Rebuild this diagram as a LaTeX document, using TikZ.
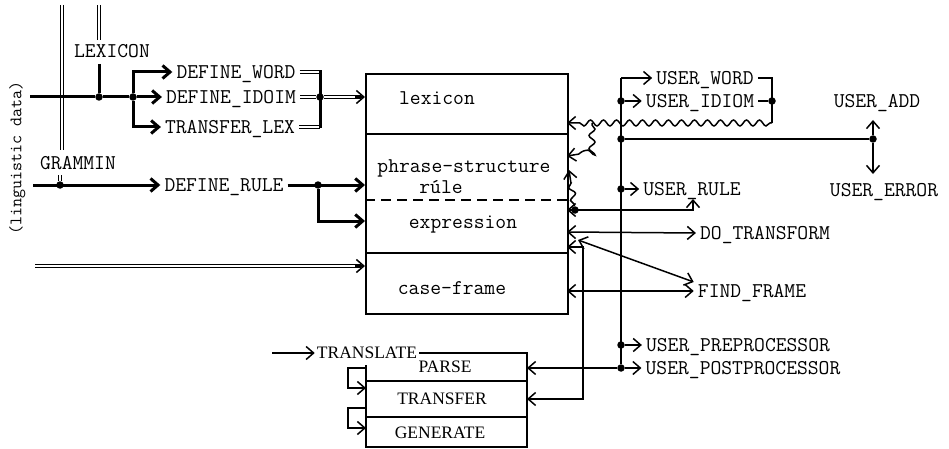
\documentclass[tikz,border=0pt]{standalone}
\usepackage{fontspec}
\usetikzlibrary{arrows.meta,decorations.pathmorphing,calc}
\newfontfamily\trfont{Liberation Serif}
\begin{document}
\begin{tikzpicture}[x=1pt,y=-1pt,
  lbl/.style={font=\ttfamily\fontsize{21}{21}\selectfont, inner xsep=4pt, inner ysep=0pt, text height=12.8pt, text depth=0pt},
  tlbl/.style={font=\trfont\fontsize{17.5}{17.5}\selectfont, inner xsep=2pt, inner ysep=0pt, text height=11.5pt, text depth=0pt},
  ln/.style={line width=1.5pt},
  hv/.style={line width=3pt},
  dbl/.style={double, double distance=2.4pt, line width=1.2pt},
  tip/.style={-{Straight Barb[length=7.5pt,width=13pt]}},
  tips/.style={{Straight Barb[length=7.5pt,width=13pt]}-{Straight Barb[length=7.5pt,width=13pt]}},
  dot/.style={circle, fill, inner sep=0pt, minimum size=7.5pt},
  sec/.style={draw, line width=1.6pt, minimum width=202pt, anchor=north west, inner sep=0pt},
  wave/.style={decorate, decoration={snake, amplitude=3pt, segment length=13pt, post length=7pt, pre length=2pt}},
]
\useasboundingbox (0,0) rectangle (949,449);

% ---------------- main box ----------------
\node[sec, minimum height=60pt] (lexbox) at (365,73) {};
\node[sec, minimum height=119pt] (psbox) at (365,133) {};
\node[sec, minimum height=61pt] (cfbox) at (365,252) {};
\draw[line width=1.6pt, dash pattern=on 10pt off 6pt] (psbox.west |- 0,200) -- (psbox.east |- 0,200);
\node[lbl] (tlex) at (437,98) {lexicon};
\node[lbl] (tps) at (464,166) {phrase-structure};
\node[lbl] (trule) at (441,187) {rúle};
\node[lbl] (texp) at (463,222) {expression};
\node[lbl] (tcf) at (452,288) {case-frame};

% ---------------- left side ----------------
\node[lbl, font=\ttfamily\fontsize{17.5}{17.5}\selectfont, rotate=90] (ling) at (15,158) {(linguistic data)};
\coordinate (gtop) at (62,5);
\coordinate (gbot) at (62,150);
\draw[dbl] (gtop) -- (gbot);
\node[lbl] (grammin) at (78,163) {GRAMMIN};
\coordinate (ltop) at (99,5);
\coordinate (lmid) at (99,40);
\draw[dbl] (ltop) -- (lmid);
\node[lbl] (lexicon) at (112,51) {LEXICON};
\coordinate (lbelow) at (99,64);
\node[dot] (dl) at (99,97) {};
\draw[hv] (lbelow) -- (dl);

\coordinate (ls) at (30,97);
\node[dot] (dsplit) at (133,97) {};
\node[lbl] (dw) at (236,72) {DEFINE\_WORD};
\node[lbl] (di) at (231,97) {DEFINE\_IDOIM};
\node[lbl] (tl) at (230,127) {TRANSFER\_LEX};
\draw[hv] (ls) -- (dl) -- (dsplit);
\draw[hv,tip] (dsplit) -- (di.west);
\draw[hv,tip] (dsplit) |- (dw.west);
\draw[hv,tip] (dsplit) |- (tl.west);

\node[dot] (dr) at (320,97) {};
\draw[dbl] (dw.east) -- (dw.east -| dr);
\draw[dbl] (di.east) -- (dr);
\draw[dbl] (tl.east) -- (tl.east -| dr);
\draw[hv] ($(dw.east -| dr)+(0,-1.5)$) -- ($(tl.east -| dr)+(0,1.5)$);
\coordinate (lexin) at (dr -| lexbox.west);
\draw[dbl] (dr) -- ($(lexin)+(-4,0)$);
\draw[ln,tip] ($(lexin)+(-10,0)$) -- (lexin);

% GRAMMIN line
\node[dot] (dg) at (60,185) {};
\coordinate (gstub) at (60,175);
\draw[dbl] (gstub) -- (dg);
\coordinate (gs) at (33,185);
\node[lbl] (drule) at (224,185) {DEFINE\_RULE};
\draw[hv,tip] (gs) -- (drule.west);
\node[dot] (drd) at (318,185) {};
\draw[hv,tip] (drule.east) -- (drule.east -| psbox.west);
\coordinate (exin) at (365,221);
\draw[hv,tip] (drd) |- (exin);

% third input
\coordinate (cs) at (35,266);
\coordinate (cfin) at (365,266);
\draw[dbl] (cs) -- ($(cfin)+(-4,0)$);
\draw[ln,tip] ($(cfin)+(-10,0)$) -- (cfin);

% ---------------- right side ----------------
\coordinate (vt) at (621,78);
\node[dot] (dpost) at (621,368) {};
\node[lbl] (uw) at (705,78) {USER\_WORD};
\node[lbl] (ui) at (700,101) {USER\_IDIOM};
\draw[ln] (vt) -- (dpost);
\draw[ln,tip] (vt) -- (uw.west);
\node[dot] (d1) at (621,101) {};
\draw[ln,tip] (d1) -- (ui.west);
\coordinate (rbr) at (772,78);
\node[dot] (d2) at (772,101) {};
\coordinate (wend) at (772,123);
\draw[ln] (uw.east) -- (rbr) -- (wend);
\draw[ln] (ui.east) -- (d2);
\coordinate (lexr) at (567,123);
\draw[ln, wave, tip] (wend) -- (lexr);

\coordinate (w2s) at (592,123);
\coordinate (w2m) at (592,152);
\coordinate (psr1) at (567,156);
\draw[ln, wave, tip] (w2s) -- (w2m) -- (psr1);

\node[dot] (d3w) at (575,210) {};
\coordinate (psr2) at (569,170);
\draw[ln, wave, tip] (d3w) -- (psr2);

\coordinate (ucorner) at (693,210);
\coordinate (uup) at (693,199);
\coordinate (psr3) at (567,210);
\draw[ln,tips] (uup) -- (ucorner) -- (psr3);

\node[dot] (d4) at (621,189) {};
\node[lbl] (urule) at (692,189) {USER\_RULE};
\draw[ln,tip] (d4) -- (urule.west);

% USER_ADD / USER_ERROR
\node[dot] (d5) at (621,139) {};
\node[dot] (dadd) at (873,139) {};
\draw[ln] (d5) -- (dadd);
\node[lbl] (uadd) at (877,101) {USER\_ADD};
\node[lbl] (uerr) at (884,190) {USER\_ERROR};
\coordinate (addtip) at (873,120);
\coordinate (errtip) at (873,174);
\draw[ln,tip] (dadd) -- (addtip);
\draw[ln,tip] (dadd) -- (errtip);

% DO_TRANSFORM, FIND_FRAME
\node[lbl] (dtr) at (765,233) {DO\_TRANSFORM};
\node[lbl] (ff) at (752,291) {FIND\_FRAME};
\coordinate (exr) at (567,232);
\draw[ln,tips] (exr) -- (dtr.west);
\coordinate (diag) at (578,240);
\draw[ln,tips] (diag) -- ($(ff.west)+(0,-9)$);
\coordinate (cfr) at (567,291);
\draw[ln,tips] (cfr) -- (ff.west);

% pre/post processors
\node[dot] (dpre) at (621,345) {};
\node[lbl] (upre) at (738,345) {USER\_PREPROCESSOR};
\node[lbl] (upost) at (743,368) {USER\_POSTPROCESSOR};
\draw[ln,tip] (dpre) -- (upre.west);
\draw[ln,tip] (dpost) -- (upost.west);

% ---------------- bottom box ----------------
\node[tlbl] (trl) at (367,353) {TRANSLATE};
\coordinate (tstart) at (272,353);
\draw[ln,tip] (tstart) -- (trl.west);
\coordinate (bTR) at (527,353);
\coordinate (bBR) at (527,447);
\coordinate (bBL) at (366,447);
\coordinate (bTL) at (366,365);
\draw[ln] (trl.east) -- (bTR) -- (bBR) -- (bBL) -- (bTL);
\draw[ln] (366,381) -- (527,381);
\draw[ln] (366,417) -- (527,417);
\node[tlbl] (parse) at (445,367) {PARSE};
\node[tlbl] (transfer) at (442,399) {TRANSFER};
\node[tlbl] (generate) at (440,433) {GENERATE};
\coordinate (parser) at (527,368);
\draw[ln,tip] (dpost) -- (parser);
\coordinate (transr) at (527,399);
\coordinate (exr2) at (567,247);
\draw[ln,tips] (exr2) -- (583,247) -- (583,399) -- (transr);
% loops
\draw[ln,tip] (366,368) -- (348,368) -- (348,388) -- (366,388);
\draw[ln,tip] (366,408) -- (348,408) -- (348,428) -- (366,428);
\end{tikzpicture}
\end{document}
